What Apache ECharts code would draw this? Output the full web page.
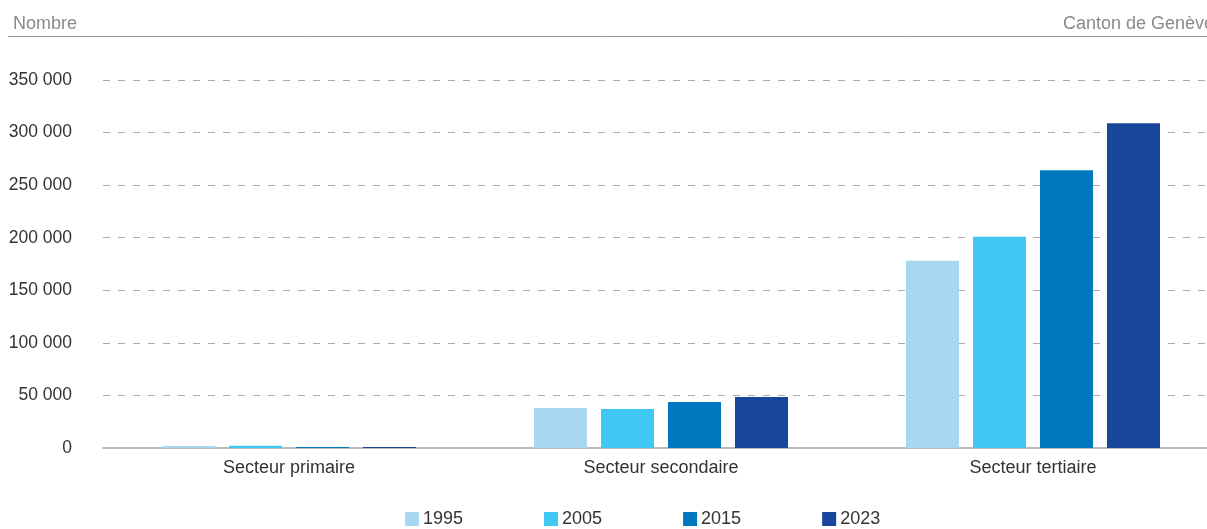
<!DOCTYPE html>
<html><head><meta charset="utf-8">
<script src="https://cdn.jsdelivr.net/npm/echarts@6/dist/echarts.min.js"></script>
<style>html,body{margin:0;padding:0;background:#fff}#c{width:1207px;height:529px}</style>
</head><body><div id="c"></div>
<script>
const categories = ['Secteur primaire', 'Secteur secondaire', 'Secteur tertiaire'];
const years = ['1995', '2005', '2015', '2023'];
const v1995 = [2000, 38000, 178000];
const v2005 = [2200, 37200, 200800];
const v2015 = [1000, 43700, 264200];
const v2023 = [1000, 48500, 308800];
const colors = ['#a8d8f1', '#40c8f2', '#0077bf', '#18469a'];
const values = [v1995, v2005, v2015, v2023];

const chart = echarts.init(document.getElementById('c'));
const font = 'Liberation Sans, Arial, sans-serif';
chart.setOption({
  animation: false,
  textStyle: { fontFamily: font },
  title: [
    { text: 'Nombre', left: 8, top: 10, textStyle: { fontFamily: font, fontSize: 18, fontWeight: 'normal', color: '#8a8a8a' } },
    { text: 'Canton de Genève', right: -12, top: 10, textStyle: { fontFamily: font, fontSize: 18, fontWeight: 'normal', color: '#8a8a8a' } }
  ],
  graphic: [{ type: 'line', shape: { x1: 8, y1: 36.5, x2: 1207, y2: 36.5 }, style: { stroke: '#9a9a9a', lineWidth: 1 } }],
  legend: {
    bottom: -4, left: 400, itemWidth: 14, itemHeight: 14, itemGap: 81, icon: 'rect',
    textStyle: { fontFamily: font, fontSize: 18, color: '#333', padding: [0, 0, 0, -1] },
    data: years
  },
  grid: { left: 103, width: 1116, top: 80, bottom: 81, containLabel: false, outerBoundsMode: 'none' },
  xAxis: {
    type: 'category', data: categories,
    axisLine: { lineStyle: { color: '#bbbbbb', width: 2 } },
    axisTick: { show: false },
    axisLabel: { fontFamily: font, fontSize: 18, color: '#333', margin: 11 }
  },
  yAxis: {
    type: 'value', min: 0, max: 350000, interval: 50000,
    axisLine: { show: false }, axisTick: { show: false },
    axisLabel: { fontFamily: font, fontSize: 17.5, color: '#333', margin: 31,
      formatter: v => v === 0 ? '0' : String(v).replace(/\B(?=(\d{3})+(?!\d))/g, ' ') },
    splitLine: { lineStyle: { color: '#aaaaaa', type: [7, 8], width: 1 } }
  },
  series: years.map((y, i) => ({
    name: y, type: 'bar', data: values[i], barWidth: 53, barGap: '26.4%',
    itemStyle: { color: colors[i] }
  }))
});
</script></body></html>
